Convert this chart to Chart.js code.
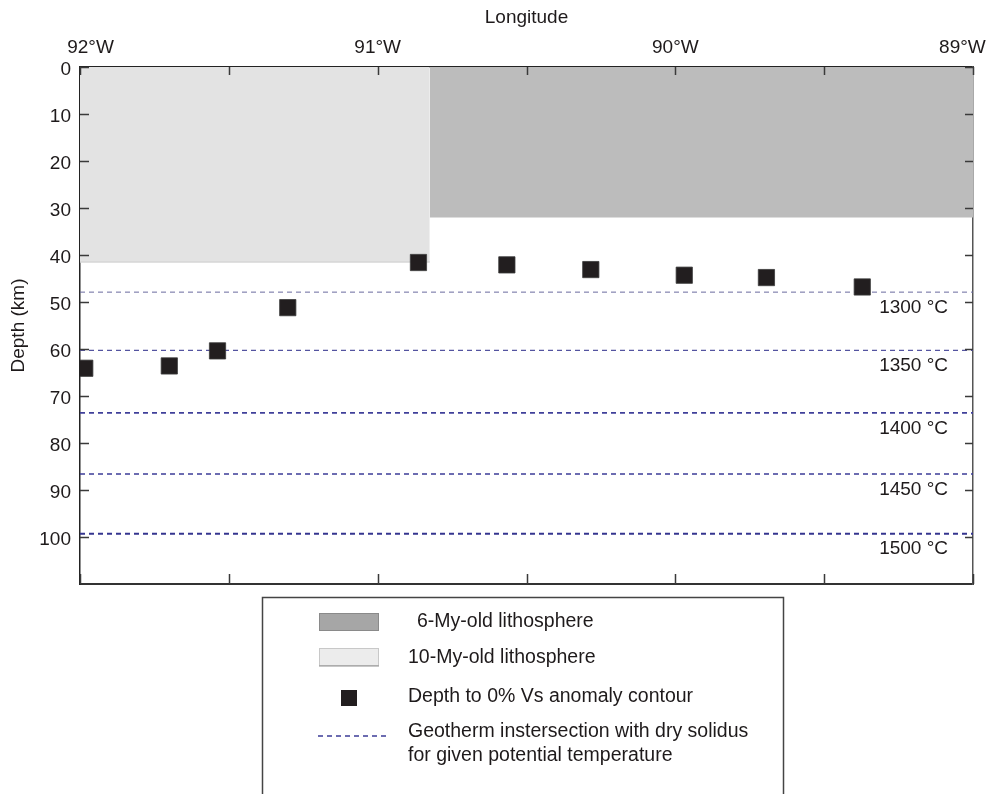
<!DOCTYPE html>
<html>
<head>
<meta charset="utf-8">
<script src="https://cdn.jsdelivr.net/npm/chart.js@4.4.1/dist/chart.umd.min.js"></script>
<style>
  html, body { margin: 0; padding: 0; background: #fff; }
  canvas { display: block; }
</style>
</head>
<body>
<canvas id="profile" width="991" height="794"></canvas>
<script>
// Longitude ticks (degrees, west negative) and depth ticks (km)
const lonTicks = [-92, -91.5, -91, -90.5, -90, -89.5, -89];
const depthTicks = [0, 10, 20, 30, 40, 50, 60, 70, 80, 90, 100];

// Depth to the 0% Vs anomaly contour
const vsLon = [-91.984, -91.70, -91.538, -91.302, -90.863, -90.566, -90.284, -89.970, -89.694, -89.372];
const vsDepth = [64.1, 63.6, 60.4, 51.2, 41.6, 42.1, 43.1, 44.3, 44.8, 46.8];

// Lithosphere thickness blocks
const litho10Lon = [-92, -90.825];
const litho10Depth = 41.5;
const litho6Lon = [-90.825, -89];
const litho6Depth = 32;

// Geotherm / dry solidus intersection depths per potential temperature
const solidusTemp = [1300, 1350, 1400, 1450, 1500];
const solidusDepth = [47.9, 60.3, 73.6, 86.6, 99.3];
const solidusWidth = [1, 1.3, 1.6, 1.6, 2];
const solidusColor = ['#6a6a9e', '#5454a0', '#40409a', '#3c3c98', '#35358f'];

// Legend entries
const legendLabels = [
  '6-My-old lithosphere',
  '10-My-old lithosphere',
  'Depth to 0% Vs anomaly contour',
  'Geotherm instersection with dry solidus',
  'for given potential temperature'
];

const FONT = '"Liberation Sans", Arial, Helvetica, sans-serif';
const TXT = '#1e1a1b';

const datasets = [];

datasets.push({
  label: 'vs',
  data: vsLon.map((x, i) => ({ x, y: vsDepth[i] })),
  showLine: false,
  pointStyle: 'rect',
  pointRadius: 11.5,
  pointHoverRadius: 11.5,
  backgroundColor: '#221e1f',
  borderColor: '#3b3b3b',
  borderWidth: 0.8,
  order: 0
});

solidusDepth.forEach((d, i) => {
  datasets.push({
    label: 'solidus ' + solidusTemp[i],
    data: [{ x: lonTicks[0], y: d }, { x: lonTicks[lonTicks.length - 1], y: d }],
    showLine: true,
    pointRadius: 0,
    borderColor: solidusColor[i],
    borderWidth: solidusWidth[i],
    borderDash: [5, 4],
    fill: false,
    order: 1
  });
});

datasets.push({
  label: 'litho6',
  data: litho6Lon.map(x => ({ x, y: litho6Depth })),
  showLine: true,
  pointRadius: 0,
  borderWidth: 0,
  borderColor: 'rgba(0,0,0,0)',
  backgroundColor: '#bcbcbc',
  fill: { value: 0 },
  order: 2
});

datasets.push({
  label: 'litho10',
  data: litho10Lon.map(x => ({ x, y: litho10Depth })),
  showLine: true,
  pointRadius: 0,
  borderWidth: 1.5,
  borderColor: '#d6d6d6',
  backgroundColor: '#e3e3e3',
  fill: { value: 0 },
  order: 3
});

// Inward tick marks on all four sides, plus temperature labels
const innerTicks = {
  id: 'innerTicks',
  afterDatasetsDraw(chart) {
    const { ctx, chartArea: a, scales } = chart;
    ctx.save();
    ctx.strokeStyle = '#3a3a3a';
    ctx.lineWidth = 1.5;
    ctx.beginPath();
    scales.x.ticks.forEach(t => {
      const px = Math.round(scales.x.getPixelForValue(t.value)) + 0.5;
      ctx.moveTo(px, a.top); ctx.lineTo(px, a.top + 8);
      ctx.moveTo(px, a.bottom); ctx.lineTo(px, a.bottom - 10);
    });
    scales.y.ticks.forEach(t => {
      const py = Math.round(scales.y.getPixelForValue(t.value)) + 0.5;
      ctx.moveTo(a.left, py); ctx.lineTo(a.left + 9, py);
      ctx.moveTo(a.right, py); ctx.lineTo(a.right - 8, py);
    });
    ctx.stroke();

    ctx.fillStyle = TXT;
    ctx.font = '19px ' + FONT;
    ctx.textAlign = 'right';
    ctx.textBaseline = 'middle';
    solidusDepth.forEach((d, i) => {
      const py = scales.y.getPixelForValue(d);
      ctx.fillText(solidusTemp[i] + ' \u00B0C', a.right - 25, py + 15.5);
    });
    ctx.restore();
  }
};

// Boxed legend below the plot
const boxLegend = {
  id: 'boxLegend',
  afterDraw(chart) {
    const { ctx, height } = chart;
    ctx.save();
    ctx.strokeStyle = '#444';
    ctx.lineWidth = 1.5;
    ctx.strokeRect(262.5, 597.5, 521, height);

    ctx.fillStyle = '#a6a6a6';
    ctx.fillRect(319, 613, 60, 18);
    ctx.strokeStyle = '#8a8a8a';
    ctx.lineWidth = 1;
    ctx.strokeRect(319.5, 613.5, 59, 17);

    ctx.fillStyle = '#ececec';
    ctx.fillRect(319, 648, 60, 18);
    ctx.strokeStyle = '#c8c8c8';
    ctx.strokeRect(319.5, 648.5, 59, 17);
    ctx.strokeStyle = '#909090';
    ctx.beginPath(); ctx.moveTo(319, 666); ctx.lineTo(379, 666); ctx.stroke();

    ctx.fillStyle = '#221e1f';
    ctx.fillRect(341, 690, 16, 16);

    ctx.strokeStyle = solidusColor[3];
    ctx.lineWidth = 1.5;
    ctx.setLineDash([5, 4]);
    ctx.beginPath(); ctx.moveTo(318, 736); ctx.lineTo(386, 736); ctx.stroke();
    ctx.setLineDash([]);

    ctx.fillStyle = TXT;
    ctx.font = '19.5px ' + FONT;
    ctx.textAlign = 'left';
    ctx.textBaseline = 'middle';
    ctx.fillText(legendLabels[0], 417, 622);
    ctx.fillText(legendLabels[1], 408, 658);
    ctx.fillText(legendLabels[2], 408, 697);
    ctx.fillText(legendLabels[3], 408, 732);
    ctx.fillText(legendLabels[4], 408, 756);
    ctx.restore();
  }
};

const tickFont = { family: FONT, size: 19 };
const noPadX = s => { s.paddingLeft = 0; s.paddingRight = 0; };
const noPadY = s => { s.paddingTop = 0; s.paddingBottom = 0; };

// Whole-degree labels; the two end labels are nudged inward so they stay on the page
const lonLabel = v => {
  if (!Number.isInteger(v)) return '';
  const txt = Math.abs(v) + '\u00B0W';
  if (v === lonTicks[0]) return '    ' + txt;
  if (v === lonTicks[lonTicks.length - 1]) return txt + '    ';
  return txt;
};

new Chart(document.getElementById('profile'), {
  type: 'scatter',
  data: { datasets },
  options: {
    responsive: false,
    animation: false,
    devicePixelRatio: 1,
    layout: { padding: 0 },
    plugins: { legend: { display: false }, tooltip: { enabled: false } },
    scales: {
      x: {
        type: 'linear',
        position: 'top',
        min: lonTicks[0],
        max: lonTicks[lonTicks.length - 1],
        afterBuildTicks: s => { s.ticks = lonTicks.map(v => ({ value: v })); },
        afterFit: s => { s.height = 67; noPadX(s); },
        ticks: {
          autoSkip: false,
          maxRotation: 0,
          padding: 8,
          color: TXT,
          font: tickFont,
          callback: lonLabel
        },
        grid: { display: false, drawTicks: false },
        border: { display: true, color: '#222', width: 1.5 },
        title: { display: true, text: 'Longitude', color: TXT, font: tickFont, padding: { top: 6, bottom: 0 } }
      },
      x2: {
        type: 'linear',
        position: 'bottom',
        min: lonTicks[0],
        max: lonTicks[lonTicks.length - 1],
        afterFit: s => { s.height = 210; noPadX(s); },
        ticks: { display: false },
        grid: { display: false, drawTicks: false },
        border: { display: true, color: '#333', width: 2 }
      },
      y: {
        type: 'linear',
        position: 'left',
        reverse: true,
        min: 0,
        max: 110,
        afterBuildTicks: s => { s.ticks = depthTicks.map(v => ({ value: v })); },
        afterFit: s => { s.width = 80; noPadY(s); },
        ticks: { padding: 9, labelOffset: 2.5, color: TXT, font: tickFont, callback: v => String(v) },
        grid: { display: false, drawTicks: false },
        border: { display: true, color: '#222', width: 1.5 },
        title: { display: true, text: 'Depth (km)', color: TXT, font: tickFont, padding: { top: 7, bottom: 0 } }
      },
      y2: {
        type: 'linear',
        position: 'right',
        reverse: true,
        min: 0,
        max: 110,
        afterFit: s => { s.width = 18; noPadY(s); },
        ticks: { display: false },
        grid: { display: false, drawTicks: false },
        border: { display: true, color: '#555', width: 1.5 }
      }
    }
  },
  plugins: [innerTicks, boxLegend]
});
</script>
</body>
</html>
